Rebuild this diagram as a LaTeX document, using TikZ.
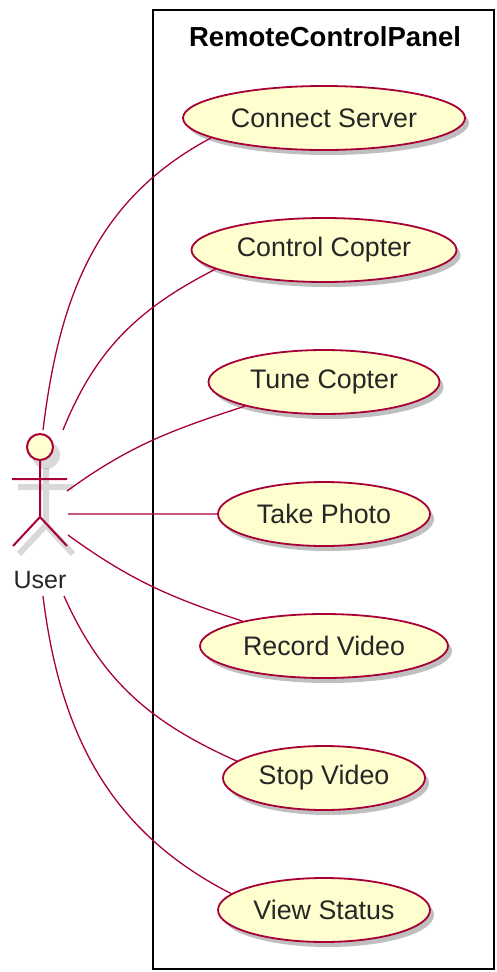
\documentclass[tikz,border=0pt]{standalone}
\usepackage{fontspec}
\setmainfont{Liberation Sans}
\usetikzlibrary{positioning,shadows,shapes.geometric}
\definecolor{umlred}{HTML}{A80036}
\definecolor{umlfill}{HTML}{FEFECE}
\tikzset{
  usecase/.style={ellipse, draw=umlred, fill=umlfill, line width=1.8pt,
    minimum height=64pt, inner sep=0pt, text=black!85,
    font=\fontsize{26.8}{30}\selectfont,
    drop shadow={shadow xshift=4pt, shadow yshift=-5pt, opacity=0.25, fill=black}},
  assoc/.style={draw=umlred, line width=1.3pt},
  actorline/.style={draw=umlred, line width=2pt},
}

\begin{document}
\begin{tikzpicture}[x=1pt,y=1pt]
\useasboundingbox (0,0) rectangle (497,-972);

% system boundary
\draw[line width=2.6pt] (153,-10) rectangle (494,-969);
\node[font=\bfseries\fontsize{27.5}{30}\selectfont] (panel) at (325,-37) {RemoteControlPanel};

% use cases
\node[usecase, minimum width=282pt] (cs) at (324,-118) {Connect Server};
\node[usecase, minimum width=265pt, below=66.2pt of cs] (cc) {Control Copter};
\node[usecase, minimum width=231pt, below=66.2pt of cc] (tc) {Tune Copter};
\node[usecase, minimum width=212pt, below=66.2pt of tc] (tp) {Take Photo};
\node[usecase, minimum width=248pt, below=66.2pt of tp] (rv) {Record Video};
\node[usecase, minimum width=202pt, below=66.2pt of rv] (sv) {Stop Video};
\node[usecase, minimum width=212pt, below=66.2pt of sv] (vs) {View Status};

% actor
\begin{scope}[shift={(6,-8)}, draw=black, opacity=0.15, line width=6pt]
  \fill[black] (40,-447) circle (14);
  \draw (40,-460) -- (40,-517) (12,-479) -- (67,-479) (13,-546) -- (40,-517) -- (67,-546);
\end{scope}
\draw[actorline, fill=umlfill] (40,-447) circle (13);
\draw[actorline] (40,-460) -- (40,-517) (12,-479) -- (67,-479) (13,-546) -- (40,-517) -- (67,-546);
\node[anchor=base, font=\fontsize{25}{28}\selectfont, text=black!85] (user) at (40,-588) {User};

\coordinate (u1) at (43,-430);
\coordinate (u2) at (63,-430);
\coordinate (u3) at (67,-491);
\coordinate (u4) at (68,-514);
\coordinate (u5) at (68,-535);
\coordinate (u6) at (64,-596);
\coordinate (u7) at (43,-596);

% associations
\draw[assoc] (u1) to[out=83, in=208] (cs.190);
\draw[assoc] (u2) to[out=68, in=207] (cc.190);
\draw[assoc] (u3) to[out=36, in=198] (tc.197);
\draw[assoc] (u4) -- (tp.180);
\draw[assoc] (u5) to[out=-36, in=162] (rv.163);
\draw[assoc] (u6) to[out=-66, in=156] (sv.169);
\draw[assoc] (u7) to[out=-83, in=153] (vs.170);
\end{tikzpicture}
\end{document}
